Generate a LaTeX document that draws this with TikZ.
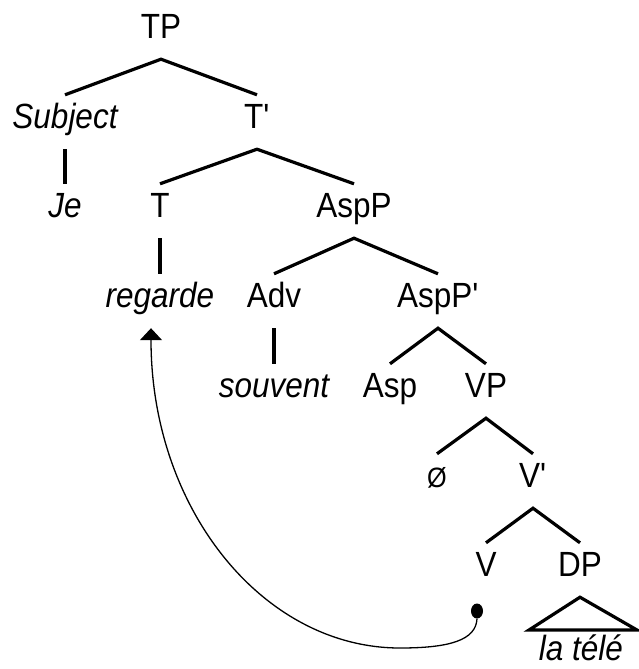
\documentclass[tikz,border=0pt]{standalone}
\usepackage{fontspec}
\setmainfont{Liberation Sans}[FakeStretch=0.9]
\usetikzlibrary{shapes.geometric,arrows.meta}
\begin{document}
\begin{tikzpicture}[x=1pt,y=-1pt,
  lbl/.style={anchor=base, font=\fontsize{35pt}{40pt}\selectfont, text height=25pt, text depth=13pt, inner xsep=0pt, inner ysep=8pt},
  it/.style={lbl, font=\fontsize{35pt}{40pt}\selectfont\itshape},
  branch/.style={line width=3.2pt, line join=miter, line cap=butt},
  move/.style={line width=1.3pt, -{Triangle[width=22pt,length=12pt]}},
]
\useasboundingbox (0,0) rectangle (638,669);
% nodes
\node[lbl] (TP) at (161,38) {TP};
\node[it] (Subj) at (65,128) {Subject};
\node[lbl] (Tbar) at (257,128) {T\textquotesingle};
\node[it] (Je) at (65,217) {Je};
\node[lbl] (T) at (160,217) {T};
\node[lbl] (AspP) at (354,217) {AspP};
\node[it] (regarde) at (160,307) {regarde};
\node[lbl] (Adv) at (274,307) {Adv};
\node[lbl] (AspPbar) at (438,307) {AspP\textquotesingle};
\node[it] (souvent) at (274,397) {souvent};
\node[lbl] (Asp) at (390,397) {Asp};
\node[lbl] (VP) at (486,397) {VP};
\node[lbl, font=\fontsize{28pt}{32pt}\selectfont] (null) at (437,487) {Ø};
\node[lbl] (Vbar) at (533,487) {V\textquotesingle};
\node[lbl] (V) at (486,576) {V};
\node[lbl] (DP) at (580,576) {DP};
\node[it] (tele) at (581,660) {la télé};
% branches
\draw[branch] (Subj.north) -- (TP.south) -- (Tbar.north);
\draw[branch] (Subj.south) -- (Je.north);
\draw[branch] (T.north) -- (Tbar.south) -- (AspP.north);
\draw[branch] (T.south) -- (regarde.north);
\draw[branch] (Adv.north) -- (AspP.south) -- (AspPbar.north);
\draw[branch] (Adv.south) -- (souvent.north);
\draw[branch] (Asp.north) -- (AspPbar.south) -- (VP.north);
\draw[branch] (null.north) -- (VP.south) -- (Vbar.north);
\draw[branch] (V.north) -- (Vbar.south) -- (DP.north);
% triangle
\coordinate (tl) at (529,630);
\coordinate (tr) at (637,630);
\draw[branch] (DP.south) -- (tl) -- (tr) -- cycle;
% movement
\node[ellipse, fill, inner sep=0pt, minimum width=12pt, minimum height=15pt] (dot) at (477,611) {};
\coordinate (low) at (400,648);
\draw[move] (dot.south) .. controls (476,640) and (450,648) .. (low) .. controls (263,648) and (151,509) .. ([xshift=-9pt]regarde.south);
\end{tikzpicture}
\end{document}
